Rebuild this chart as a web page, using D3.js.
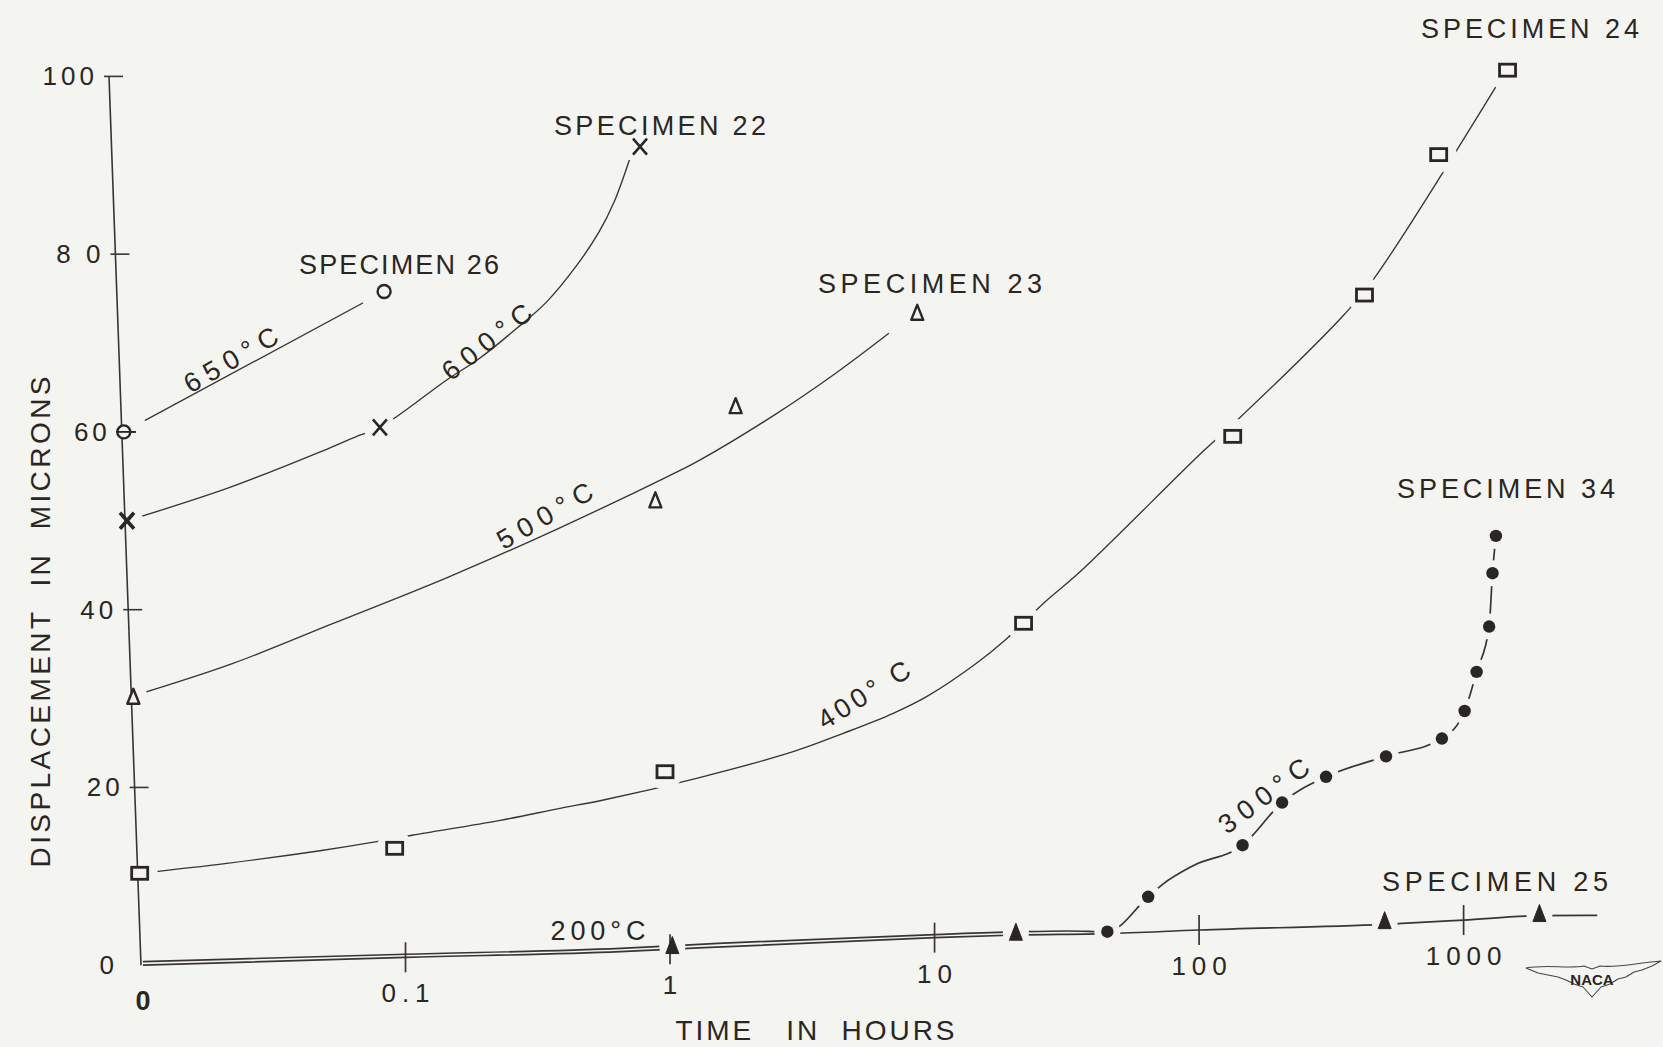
<!DOCTYPE html>
<html><head><meta charset="utf-8">
<script src="https://cdn.jsdelivr.net/npm/d3@7"></script>
<style>
html,body{margin:0;padding:0;background:#f4f4f0;}
svg{display:block;}
text{font-family:"Liberation Sans", Arial, sans-serif; fill:#2a2624; white-space:pre;}
</style></head><body>
<svg id="chart" width="1663" height="1047"></svg>
<script>
// ---------------- DATA (time in hours, displacement in microns) ----------------
const xTickValues = [0.1, 1, 10, 100, 1000];
const xTickLabels = ["0.1", "1", "10", "100", "1000"];
const yTickValues = [0, 20, 40, 60, 80, 100];
const yTickLabels = ["0", "20", "40", "60", "8 0", "100"];

// Specimen 26 - 650 C (open circles)
const s26Time = [0, 0.083];
const s26Disp = [60, 75.8];
const s26CurveTime = [0, 0.083];
const s26CurveDisp = [60, 75.8];

// Specimen 22 - 600 C (crosses)
const s22Time = [0, 0.08, 0.77];
const s22Disp = [50, 60.5, 92.1];
const s22CurveTime = [0, 0.0214, 0.0489, 0.0654, 0.08, 0.144, 0.189, 0.262, 0.341, 0.443, 0.539, 0.615, 0.702];
const s22CurveDisp = [50, 53.7, 57.9, 59.5, 60.5, 65.9, 68.2, 71.6, 74.6, 78.7, 82.5, 85.9, 90.6];

// Specimen 23 - 500 C (open triangles)
const s23Time = [0, 0.88, 1.77, 8.6];
const s23Disp = [30.2, 52.3, 62.9, 73.4];
const s23CurveTime = [0, 0.022, 0.0527, 0.146, 0.376, 0.974, 1.29, 2.51, 4.14, 6.72];
const s23CurveDisp = [30.3, 33.9, 38.4, 43.7, 49.1, 54.95, 56.8, 62.0, 66.4, 71.1];

// Specimen 24 - 400 C (open squares)
const s24Time = [0, 0.091, 0.957, 21.7, 134, 422, 805, 1466];
const s24Disp = [10.34, 13.15, 21.77, 38.47, 59.5, 75.4, 91.2, 100.7];
const s24CurveTime = [0, 0.0211, 0.0475, 0.0778, 0.107, 0.228, 0.384, 0.56, 1.26, 2.92, 4.52, 6.98, 9.33, 14.4, 18.5, 26.2, 35.5, 103.8, 138, 356, 457, 1322];
const s24CurveDisp = [10.34, 11.46, 12.88, 13.9, 14.65, 16.3, 17.65, 18.59, 21.03, 24.02, 26.09, 28.34, 30.21, 33.97, 36.59, 40.9, 44.27, 57.85, 61.2, 73.3, 77.2, 98.8];

// Specimen 34 - 300 C (filled circles)
const s34Time = [45, 64.2, 146, 206, 302, 509, 828, 1009, 1120, 1249, 1286, 1325];
const s34Disp = [3.77, 7.7, 13.5, 18.3, 21.2, 23.5, 25.5, 28.6, 33.0, 38.1, 44.1, 48.3];
const s34CurveTime = [0, 0.1, 0.65, 1.52, 10, 20.3, 32, 45, 64.2, 72.8, 95, 146, 206, 302, 509, 828, 1009, 1120, 1249, 1286, 1325];
const s34CurveDisp = [0.4, 1.23, 1.9, 2.46, 3.45, 3.75, 3.85, 3.77, 7.7, 9.1, 11.2, 13.5, 18.3, 21.2, 23.5, 25.5, 28.6, 33.0, 38.1, 44.1, 48.3];

// Specimen 25 - 200 C (filled triangles)
const s25Time = [1.02, 20.3, 503, 1935];
const s25Disp = [2.1, 3.6, 4.9, 5.7];
const s25CurveTime = [0, 0.1, 0.65, 1.02, 10, 20.3, 45, 100, 500, 1000, 1935, 3200];
const s25CurveDisp = [0, 0.89, 1.52, 1.8, 3.1, 3.4, 3.55, 3.96, 4.6, 5.08, 5.57, 5.6];

// ---------------- LAYOUT ----------------
const W = 1663, H = 1047;
const BG = "#f4f4f0", INK = "#2a2624", LINE = "#3a3533";
const svg = d3.select("#chart");
svg.append("rect").attr("width", W).attr("height", H).attr("fill", BG);

const ZERO = 0.01; // "0" hours plotted at the 0.01 position of the log scale
const x = d3.scaleLog().domain([ZERO, 1000]).range([141, 1463.6]);
const y = d3.scaleLinear().domain([0, 100]).range([965.2, 76.4]);
const leanPx = 32; // hand-drawn ordinate leans left towards the top
const axisX = v => x(ZERO) - leanPx * (v / 100);
const px = (t, v) => t === 0 ? axisX(v) + 2 : x(t);

const toPts = (ts, vs) => ts.map((t, i) => ({ t, v: vs[i] }));

const smooth = d3.curveCatmullRom.alpha(0.5);
const mono = d3.curveMonotoneX;
const series = [
  { name: "26", pts: toPts(s26Time, s26Disp), curve: toPts(s26CurveTime, s26CurveDisp), marker: "ocircle", gap: 24, interp: smooth },
  { name: "22", pts: toPts(s22Time, s22Disp), curve: toPts(s22CurveTime, s22CurveDisp), marker: "cross", gap: 16, interp: smooth },
  { name: "23", pts: toPts(s23Time, s23Disp), curve: toPts(s23CurveTime, s23CurveDisp), marker: "otri", gap: 14, interp: smooth },
  { name: "24", pts: toPts(s24Time, s24Disp), curve: toPts(s24CurveTime, s24CurveDisp), marker: "osquare", gap: 18, interp: smooth },
  { name: "34", pts: toPts(s34Time, s34Disp), curve: toPts(s34CurveTime, s34CurveDisp), marker: "fcircle", gap: 13, interp: mono },
  { name: "25", pts: toPts(s25Time, s25Disp), curve: toPts(s25CurveTime, s25CurveDisp), marker: "ftri", gap: 13, interp: mono },
];

const gCurves = svg.append("g");
const gMasks = svg.append("g");
const gAxes = svg.append("g");
const gMarkers = svg.append("g");
const gText = svg.append("g");

gCurves.selectAll("path").data(series).join("path")
  .attr("d", s => d3.line().x(d => px(d.t, d.v)).y(d => y(d.v)).curve(s.interp)(s.curve))
  .attr("fill", "none").attr("stroke", LINE)
  .attr("stroke-width", s => (s.name === "25" || s.name === "34") ? 1.7 : 1.35);

// gaps in the drawn curves around the plotted points
series.forEach(s => {
  gMasks.selectAll(null).data(s.pts).join("circle")
    .attr("cx", d => px(d.t, d.v)).attr("cy", d => y(d.v))
    .attr("r", s.gap).attr("fill", BG);
});

// ---------------- AXES ----------------
gAxes.append("line")
  .attr("x1", axisX(0)).attr("y1", y(0)).attr("x2", axisX(100)).attr("y2", y(100))
  .attr("stroke", LINE).attr("stroke-width", 1.6);

gAxes.selectAll(".ytick").data(yTickValues.filter(v => v > 0)).join("line")
  .attr("x1", v => axisX(v) - 5).attr("x2", v => axisX(v) + 14)
  .attr("y1", v => y(v)).attr("y2", v => y(v))
  .attr("stroke", LINE).attr("stroke-width", 1.6);

gText.selectAll(".ylab").data(yTickValues).join("text")
  .attr("x", (v) => axisX(v) - 11 - (v === 0 ? 12 : 0))
  .attr("y", v => y(v))
  .attr("text-anchor", "end").attr("dominant-baseline", "central")
  .attr("font-size", 26).attr("letter-spacing", 4)
  .text((v, i) => yTickLabels[i]);

// x ticks sit on the 200 C baseline curve
const logT = t => Math.log10(t === 0 ? ZERO : t);
function baseAt(t) {
  const lt = Math.log10(t);
  for (let i = 0; i < s25CurveTime.length - 1; i++) {
    const a = logT(s25CurveTime[i]), b = logT(s25CurveTime[i + 1]);
    if (lt >= a && lt <= b) return s25CurveDisp[i] + (s25CurveDisp[i + 1] - s25CurveDisp[i]) * (lt - a) / (b - a);
  }
  return s25CurveDisp[s25CurveDisp.length - 1];
}
gAxes.selectAll(".xtick").data(xTickValues).join("line")
  .attr("x1", t => x(t)).attr("x2", t => x(t))
  .attr("y1", t => y(baseAt(t)) - 15).attr("y2", t => y(baseAt(t)) + 15)
  .attr("stroke", LINE).attr("stroke-width", 1.7);

gText.selectAll(".xlab").data(xTickValues).join("text")
  .attr("x", t => x(t) + 3).attr("y", t => y(baseAt(t)) + 36)
  .attr("text-anchor", "middle").attr("dominant-baseline", "central")
  .attr("font-size", 26).attr("letter-spacing", 6)
  .text((t, i) => xTickLabels[i]);

gText.append("text")
  .attr("x", x(ZERO) + 2).attr("y", y(0) + 36)
  .attr("text-anchor", "middle").attr("dominant-baseline", "central")
  .attr("font-size", 27).attr("font-weight", "bold").text("0");

// ---------------- MARKERS ----------------
const symbolPath = {
  cross: "M-7,-8L7,8M-7,8L7,-8",
  otri: "M0,-8L6,7L-6,7Z",
  ftri: "M0,-10L6.5,7L-6.5,7Z",
};
series.forEach(s => {
  const g = gMarkers.append("g");
  const sel = g.selectAll(null).data(s.pts).join(
    enter => {
      if (s.marker === "ocircle") return enter.append("circle").attr("r", 6.5).attr("fill", BG).attr("stroke", INK).attr("stroke-width", 2.4);
      if (s.marker === "fcircle") return enter.append("circle").attr("r", 6.2).attr("fill", INK);
      if (s.marker === "osquare") return enter.append("rect").attr("x", -8).attr("y", -6).attr("width", 16).attr("height", 12).attr("fill", BG).attr("stroke", INK).attr("stroke-width", 2.8);
      if (s.marker === "cross") return enter.append("path").attr("d", symbolPath.cross).attr("fill", "none").attr("stroke", INK).attr("stroke-width", (d) => d.t === 0 ? 3.6 : 2.6);
      if (s.marker === "otri") return enter.append("path").attr("d", symbolPath.otri).attr("fill", BG).attr("stroke", INK).attr("stroke-width", 2.4).attr("stroke-linejoin", "round");
      return enter.append("path").attr("d", symbolPath.ftri).attr("fill", INK).attr("stroke", INK).attr("stroke-width", 1).attr("stroke-linejoin", "round");
    });
  sel.attr("transform", d => `translate(${px(d.t, d.v)},${y(d.v)})`);
});

// tick through the 60-micron circle at time zero
svg.append("line")
  .attr("x1", axisX(60) - 5).attr("x2", axisX(60) + 14)
  .attr("y1", y(60)).attr("y2", y(60)).attr("stroke", INK).attr("stroke-width", 1.8);
gText.raise();

// ---------------- TEXT ----------------
const specimenLabels = [
  { text: "SPECIMEN 24", x: 1421, y: 38, len: 218 },
  { text: "SPECIMEN 22", x: 554, y: 135, len: 212 },
  { text: "SPECIMEN 26", x: 299, y: 274, len: 200 },
  { text: "SPECIMEN 23", x: 818, y: 293, len: 224 },
  { text: "SPECIMEN 34", x: 1397, y: 498, len: 218 },
  { text: "SPECIMEN 25", x: 1382, y: 891, len: 226 },
];
gText.selectAll(".spec").data(specimenLabels).join("text")
  .attr("x", d => d.x).attr("y", d => d.y)
  .attr("font-size", 27).attr("textLength", d => d.len).attr("lengthAdjust", "spacing")
  .text(d => d.text);

const tempLabels = [
  { text: "650°C", cx: 231, cy: 360, rot: -30, len: 104 },
  { text: "600°C", cx: 487, cy: 342, rot: -38, len: 106 },
  { text: "500°C", cx: 545, cy: 516, rot: -30, len: 106 },
  { text: "400° C", cx: 864, cy: 695, rot: -32, len: 104 },
  { text: "300°C", cx: 1264, cy: 796, rot: -37, len: 106 },
  { text: "200°C", cx: 598, cy: 931, rot: 0, len: 95 },
];
gText.selectAll(".temp").data(tempLabels).join("text")
  .attr("transform", d => `translate(${d.cx},${d.cy}) rotate(${d.rot})`)
  .attr("text-anchor", "middle").attr("dominant-baseline", "central")
  .attr("font-size", 27).attr("textLength", d => d.len).attr("lengthAdjust", "spacing")
  .text(d => d.text);

gText.append("text")
  .attr("transform", "translate(40,622) rotate(-90)")
  .attr("text-anchor", "middle").attr("dominant-baseline", "central")
  .attr("font-size", 28).attr("textLength", 491).attr("lengthAdjust", "spacing")
  .text("DISPLACEMENT  IN  MICRONS");

gText.append("text")
  .attr("x", 815).attr("y", 1040)
  .attr("text-anchor", "middle")
  .attr("font-size", 28).attr("textLength", 279).attr("lengthAdjust", "spacing")
  .text("TIME   IN  HOURS");

// NACA wing emblem
const logo = svg.append("g").attr("transform", "translate(1592,978)");
logo.append("path")
  .attr("d", "M-66,-10 C-45,-14 -25,-9 -8,-12 L0,-9 L8,-12 C25,-10 45,-15 69,-17 L60,-12 L50,-8 L42,-6 L34,-1 L26,1 L18,6 L9,9 L0,19 L-9,9 L-18,6 L-26,2 L-34,-1 L-44,-3 L-54,-5 Z")
  .attr("fill", BG).attr("stroke", "#4a4543").attr("stroke-width", 1.1).attr("stroke-linejoin", "round");
logo.append("text").attr("x", 0).attr("y", 7).attr("text-anchor", "middle")
  .attr("font-size", 15).attr("font-weight", "bold").attr("fill", "#3a3533").text("NACA");
</script>
</body></html>
